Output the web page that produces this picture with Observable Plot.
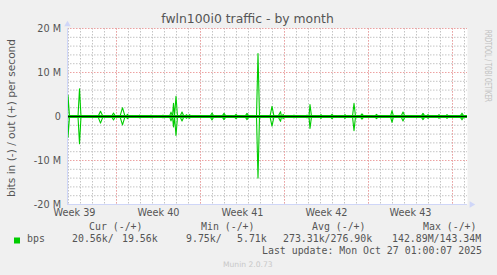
<!DOCTYPE html>
<html>
<head>
<meta charset="utf-8">
<script src="https://cdn.jsdelivr.net/npm/d3@7"></script>
<script src="https://cdn.jsdelivr.net/npm/@observablehq/plot@0.6"></script>
<style>
  html, body { margin: 0; padding: 0; background: #F0F0F0; }
  #wrap { position: relative; width: 497px; height: 275px; overflow: hidden; background: #F0F0F0; }
  #chart { position: absolute; left: 0; top: 0; }
  #over { position: absolute; left: 0; top: 0; pointer-events: none; }
  .mono { font-family: "DejaVu Sans Mono", monospace; font-size: 9.9px; fill: #555; white-space: pre; }
</style>
</head>
<body>
<div id="wrap">
  <div id="chart"></div>
  <svg id="over" width="497" height="275" xmlns="http://www.w3.org/2000/svg">
    <text x="247.5" y="23" text-anchor="middle" font-family="DejaVu Sans" font-size="12.4" fill="#555">fwln100i0 traffic - by month</text>
    <text transform="translate(14.5,118) rotate(-90)" text-anchor="middle" font-family="DejaVu Sans" font-size="10.6" fill="#555">bits in (-) / out (+) per second</text>
    <text transform="translate(484.5,30) rotate(90)" font-family="DejaVu Sans" font-size="8.8" fill="#C0C0C0" textLength="72" lengthAdjust="spacingAndGlyphs">RRDTOOL / TOBI OETIKER</text>
    <text class="mono" x="89" y="229.5">Cur (-/+)</text>
    <text class="mono" x="201" y="229.5">Min (-/+)</text>
    <text class="mono" x="312" y="229.5">Avg (-/+)</text>
    <text class="mono" x="423" y="229.5">Max (-/+)</text>
    <rect x="14" y="237.5" width="6" height="6" fill="#00CC00"></rect>
    <text class="mono" x="27" y="241.5">bps</text>
    <text class="mono" x="72" y="241.5">20.56k/</text>
    <text class="mono" x="122" y="241.5">19.56k</text>
    <text class="mono" x="186" y="241.5">9.75k/</text>
    <text class="mono" x="237" y="241.5">5.71k</text>
    <text class="mono" x="283" y="241.5">273.31k/276.90k</text>
    <text class="mono" x="392" y="241.5">142.89M/143.34M</text>
    <text class="mono" x="262" y="253.5">Last update: Mon Oct 27 01:00:07 2025</text>
    <text x="223" y="267" font-family="DejaVu Sans" font-size="7.6" fill="#C8C8C8">Munin 2.0.73</text>
  </svg>
</div>
<script>
// ---- data ----
const xStart = new Date("2025-09-24T22:00Z");
const xEnd = new Date("2025-10-28T06:00Z");
const dataEnd = new Date("2025-10-28T03:00Z");

const weekStarts = ["2025-09-29", "2025-10-06", "2025-10-13", "2025-10-20", "2025-10-27"];
const weekMids = ["2025-09-25T12:00Z", "2025-10-02T12:00Z", "2025-10-09T12:00Z", "2025-10-16T12:00Z", "2025-10-23T12:00Z"];
const weekLabels = ["Week 39", "Week 40", "Week 41", "Week 42", "Week 43"];

const yTicks = [-20, -10, 0, 10, 20];
const yTickLabels = ["-20 M", "-10 M", "0", "10 M", "20 M"];

// traffic spikes: time, out (+) peak and in (-) peak in Mbit/s, half-duration in hours
const spikeTimes = [
  "2025-09-24T23:00Z", "2025-09-25T22:00Z", "2025-09-27T16:00Z", "2025-09-28T18:00Z",
  "2025-09-29T12:00Z", "2025-09-29T22:00Z", "2025-09-30T22:00Z", "2025-10-01T21:00Z",
  "2025-10-02T21:00Z", "2025-10-03T13:00Z", "2025-10-03T18:00Z", "2025-10-03T23:00Z",
  "2025-10-04T11:00Z", "2025-10-04T20:00Z", "2025-10-05T02:00Z", "2025-10-06T23:00Z",
  "2025-10-07T23:00Z", "2025-10-08T23:00Z", "2025-10-09T21:00Z", "2025-10-10T19:00Z",
  "2025-10-11T23:00Z", "2025-10-12T16:00Z", "2025-10-12T21:00Z", "2025-10-13T19:00Z",
  "2025-10-14T21:00Z", "2025-10-15T03:00Z", "2025-10-16T01:00Z", "2025-10-16T23:00Z",
  "2025-10-18T01:00Z", "2025-10-18T19:00Z", "2025-10-19T11:00Z", "2025-10-20T16:00Z",
  "2025-10-21T23:00Z", "2025-10-22T21:00Z", "2025-10-24T13:00Z", "2025-10-24T23:00Z",
  "2025-10-25T21:00Z", "2025-10-26T13:00Z", "2025-10-27T19:00Z"
];
const outPeaks = [4.8, 6.3, 1.2, 0.8, 2.0, 0.5, 0.3, 0.3, 0.3, 1.0, 3.0, 4.6, 1.0, 0.4, 0.4, 0.8, 0.7, 0.5, 0.7, 14.3,
  2.3, 1.1, 0.5, 0.3, 0.3, 2.7, 0.4, 0.5, 0.4, 3.0, 0.6, 0.5, 1.35, 1.0, 0.7, 0.4, 0.4, 0.4, 0.75];
const inPeaks = [4.7, 6.2, 1.5, 0.8, 1.9, 0.5, 0.3, 0.3, 0.3, 1.0, 2.4, 4.3, 1.0, 0.4, 0.4, 0.8, 0.7, 0.5, 0.7, 14.0,
  2.2, 1.1, 0.5, 0.3, 0.3, 2.7, 0.4, 0.5, 0.4, 3.2, 0.6, 0.5, 1.35, 1.0, 0.7, 0.4, 0.4, 0.4, 0.75];
const spikeHalfHours = [3, 3, 5, 4, 5, 3, 4, 4, 4, 3, 2, 3, 4, 3, 3, 4, 4, 4, 4, 3,
  4, 5, 3, 4, 4, 3, 4, 4, 4, 3, 4, 4, 3, 4, 4, 3, 3, 4, 4];
const baseOut = 0.0196; // Mbit/s
const baseIn = 0.0206;

// ---- build series ----
const H = 3600e3;
const pts = [{t: xStart, out: baseOut, inn: baseIn}];
spikeTimes.forEach((s, i) => {
  const c = +new Date(s), w = spikeHalfHours[i] * H;
  pts.push({t: new Date(c - w), out: baseOut, inn: baseIn});
  pts.push({t: new Date(c), out: outPeaks[i], inn: inPeaks[i]});
  pts.push({t: new Date(c + w), out: baseOut, inn: baseIn});
});
pts.push({t: dataEnd, out: baseOut, inn: baseIn});
pts.sort((a, b) => a.t - b.t);

const days = d3.utcDay.range(d3.utcDay.ceil(xStart), xEnd);
const weekDates = weekStarts.map(d => new Date(d + "T00:00Z"));
const weekMidDates = weekMids.map(d => new Date(d));
const xLabelMap = new Map(weekMidDates.map((d, i) => [+d, weekLabels[i]]));
const yLabelMap = new Map(yTicks.map((d, i) => [d, yTickLabels[i]]));
const minorY = d3.range(-20, 20.001, 2).filter(v => !yTicks.includes(v));
const majorY = yTicks.filter(v => v !== 0 && v !== -20);

const green = "#00CC00";
const axisBlue = "#CFD6F8";
const grid = {stroke: "#C4C4C4", strokeDasharray: "1.5,1.5"};
const mgrid = {stroke: "#EDA2A2", strokeDasharray: "1.5,1.5"};

const chart = Plot.plot({
  width: 497,
  height: 220,
  marginLeft: 67,
  marginRight: 30,
  marginTop: 28,
  marginBottom: 16,
  style: {background: "transparent", fontFamily: "DejaVu Sans", fontSize: "9.7px", color: "#555"},
  x: {type: "utc", domain: [xStart, xEnd], ticks: weekMidDates, tickFormat: d => xLabelMap.get(+d), tickSize: 0, tickPadding: 5, label: null},
  y: {domain: [-20, 20], ticks: yTicks, tickFormat: d => yLabelMap.get(d), tickSize: 0, tickPadding: 6.5, label: null},
  marks: [
    Plot.frame({fill: "white", stroke: null}),
    Plot.ruleX(days, grid),
    Plot.ruleY(minorY, grid),
    Plot.ruleX(weekDates, mgrid),
    Plot.ruleY(majorY, mgrid),
    Plot.ruleY([0], {stroke: green, strokeWidth: 3.2}),
    Plot.line(pts, {x: "t", y: d => -d.inn, stroke: green, strokeWidth: 1.1, clip: true}),
    Plot.line(pts, {x: "t", y: "out", stroke: green, strokeWidth: 1.1, clip: true}),
    Plot.ruleY([0], {stroke: "#000", strokeWidth: 0.9}),
    Plot.ruleX([xStart], {stroke: axisBlue}),
    Plot.ruleY([-20], {stroke: axisBlue}),
    Plot.dot([0], {frameAnchor: "top-left", symbol: "triangle", r: 2.4, fill: axisBlue, stroke: null, dy: -4}),
    Plot.dot([0], {frameAnchor: "bottom-right", symbol: "triangle", r: 2.4, fill: axisBlue, stroke: null, rotate: 90, dx: 4})
  ]
});
document.getElementById("chart").appendChild(chart);
</script>
</body>
</html>
